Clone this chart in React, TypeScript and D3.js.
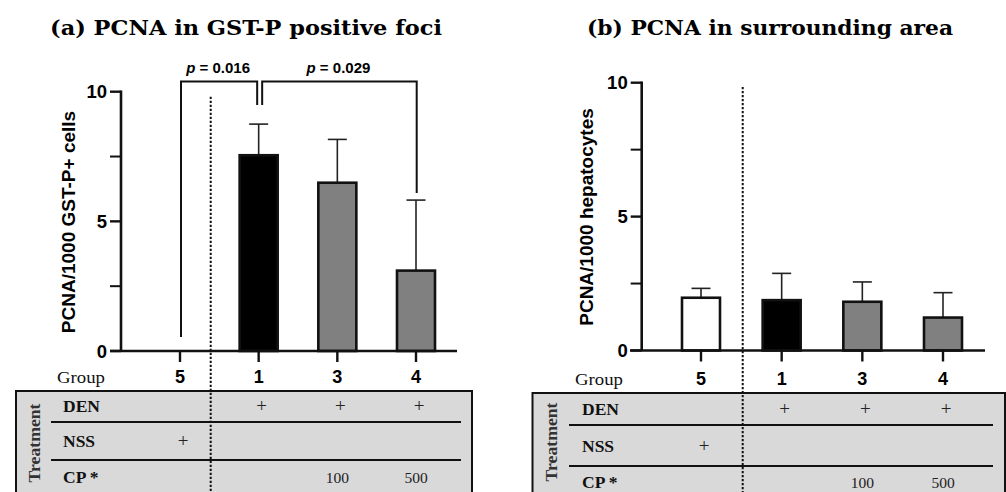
import React from 'react';
import * as d3 from 'd3';

// ---------- data ----------
const groups = ['5', '1', '3', '4'];
const meanA = [0, 7.55, 6.49, 3.1];
const sdA = [0, 1.2, 1.67, 2.72];
const meanB = [1.97, 1.88, 1.82, 1.23];
const sdB = [0.35, 1.0, 0.74, 0.93];
const barFill = ['#ffffff', '#000000', '#808080', '#808080'];
const majorTicks = [0, 5, 10];
const minorTicks = [2.5, 7.5];
const rowLabels = ['DEN', 'NSS', 'CP *'];
const denRow = ['', '+', '+', '+'];
const nssRow = ['+', '', '', ''];
const cpRow = ['', '', '100', '500'];
const compFrom = ['5', '1'];
const compTo = ['1', '4'];
const pValues = ['0.016', '0.029'];
const titles = ['(a) PCNA in GST-P positive foci', '(b) PCNA in surrounding area'];
const yLabels = ['PCNA/1000 GST-P+ cells', 'PCNA/1000 hepatocytes'];

const SANS = '"Liberation Sans", Arial, sans-serif';
const SERIF = '"Liberation Serif", "Times New Roman", serif';
const TITLE = '"DejaVu Serif", serif';

type Layout = {
  axisX: number; xl: number; xr: number; y0: number; y10: number; xRange: [number, number];
  dotX: number; dotTop: number; titleX: number; titleW: number; ylx: number; yly: number;
  groupBase: number; groupX: number; tblL: number; tblT: number; tblR: number;
  lines: number[]; lineL: number; lineR: number; rowBase: number[]; rowX: number;
  trtX: number; trtY: number; tickGap: number;
};

const LA: Layout = {
  axisX: 121, xl: 110, xr: 457, y0: 351, y10: 91.7, xRange: [180, 416],
  dotX: 210.7, dotTop: 96.7, titleX: 246, titleW: 392, ylx: 75, yly: 222,
  groupBase: 383, groupX: 57, tblL: 16, tblT: 391, tblR: 472,
  lines: [422, 460], lineL: 51, lineR: 461, rowBase: [411.5, 447, 483], rowX: 63,
  trtX: 40, trtY: 443, tickGap: 14,
};
const LB: Layout = {
  axisX: 641.7, xl: 630, xr: 985, y0: 350.5, y10: 82.7, xRange: [701, 943],
  dotX: 742.7, dotTop: 87, titleX: 770, titleW: 366, ylx: 593, yly: 217,
  groupBase: 385, groupX: 575, tblL: 532.5, tblT: 393, tblR: 1005,
  lines: [425, 466], lineL: 569, lineR: 993, rowBase: [415, 452, 488], rowX: 582,
  trtX: 557, trtY: 442, tickGap: 14,
};

function Panel({ L, means, sds, idx }: { L: Layout; means: number[]; sds: number[]; idx: number }) {
  const x = d3.scalePoint<string>().domain(groups).range(L.xRange);
  const y = d3.scaleLinear().domain([0, 10]).range([L.y0, L.y10]);
  const bw = 38;
  const rows = [denRow, nssRow, cpRow];
  return (
    <g>
      <text x={L.titleX} y={35} textAnchor="middle" fontFamily={TITLE} fontWeight="bold" fontSize={21}
        textLength={L.titleW} lengthAdjust="spacingAndGlyphs">{titles[idx]}</text>
      {/* table */}
      <rect x={L.tblL} y={L.tblT} width={L.tblR - L.tblL} height={200} fill="#d9d9d9" stroke="#111" strokeWidth={2} />
      {L.lines.map((ly, i) => (
        <line key={i} x1={L.lineL} x2={L.lineR} y1={ly} y2={ly} stroke="#111" strokeWidth={2} />
      ))}
      <text transform={`translate(${L.trtX},${L.trtY}) rotate(-90)`} textAnchor="middle" fontFamily={SERIF}
        fontSize={17} fontWeight="bold" fill="#333" textLength={79} lengthAdjust="spacingAndGlyphs">Treatment</text>
      {rowLabels.map((r, i) => (
        <text key={r} x={L.rowX} y={L.rowBase[i]} fontFamily={SERIF} fontWeight="bold" fontSize={17.5} fill="#111">{r}</text>
      ))}
      {rows.map((row, ri) =>
        row.map((v, gi) => v ? (
          <text key={`${ri}-${gi}`} x={x(groups[gi])! + (v === '+' ? 3 : 0)} y={L.rowBase[ri]} textAnchor="middle"
            fontFamily={SERIF} fontSize={v === '+' ? 19 : 15.5} fill="#222">{v}</text>
        ) : null)
      )}
      <text x={L.groupX} y={L.groupBase} fontFamily={SERIF} fontSize={17.5} fill="#111" textLength={48}
        lengthAdjust="spacingAndGlyphs">Group</text>
      {groups.map(g => (
        <text key={g} x={x(g)!} y={L.groupBase} textAnchor="middle" fontFamily={SANS} fontWeight="bold" fontSize={18}>{g}</text>
      ))}
      {/* dotted separator */}
      <line x1={L.dotX} x2={L.dotX} y1={L.dotTop} y2={492} stroke="#111" strokeWidth={2} strokeDasharray="2.2,1.8" />
      {/* bars */}
      {groups.map((g, i) => means[i] > 0 ? (
        <g key={g}>
          <line x1={x(g)!} x2={x(g)!} y1={y(means[i])} y2={y(means[i] + sds[i])} stroke="#222" strokeWidth={1.6} />
          <line x1={x(g)! - 9.5} x2={x(g)! + 9.5} y1={y(means[i] + sds[i])} y2={y(means[i] + sds[i])} stroke="#222" strokeWidth={1.6} />
          <rect x={x(g)! - bw / 2} y={y(means[i])} width={bw} height={y(0) - y(means[i])}
            fill={barFill[i]} stroke="#111" strokeWidth={2.6} />
        </g>
      ) : null)}
      {/* axes */}
      <line x1={L.xl} x2={L.xr} y1={L.y0} y2={L.y0} stroke="#111" strokeWidth={2.6} />
      <line x1={L.axisX} x2={L.axisX} y1={y(10) - 1.2} y2={L.y0} stroke="#111" strokeWidth={2.6} />
      {majorTicks.map(t => (
        <g key={t}>
          <line x1={L.axisX - 11} x2={L.axisX} y1={y(t)} y2={y(t)} stroke="#111" strokeWidth={2.4} />
          <text x={L.axisX - L.tickGap} y={y(t)} dy="0.36em" textAnchor="end" fontFamily={SANS} fontWeight="bold" fontSize={18.5}>{t}</text>
        </g>
      ))}
      {minorTicks.map(t => (
        <line key={t} x1={L.axisX - 11} x2={L.axisX} y1={y(t)} y2={y(t)} stroke="#111" strokeWidth={2} />
      ))}
      {groups.map(g => (
        <line key={g} x1={x(g)!} x2={x(g)!} y1={L.y0} y2={L.y0 + 11} stroke="#111" strokeWidth={2.4} />
      ))}
      <text transform={`translate(${L.ylx},${L.yly}) rotate(-90)`} textAnchor="middle" fontFamily={SANS}
        fontWeight="bold" fontSize={19}>{yLabels[idx]}</text>
      {idx === 0 ? <Brackets x={x} y={y} means={means} sds={sds} /> : null}
    </g>
  );
}

function Brackets({ x, y, means, sds }: any) {
  const top = 81.5;
  const upper = (g: string) => {
    const i = groups.indexOf(g);
    return means[i] + sds[i];
  };
  const legOffL = [1, 3.5];
  const legOffR = [-1.5, 0.7];
  const legGapL = [14, 19];
  const legGapR = [19, 7];
  return (
    <g>
      {compFrom.map((f, i) => {
        const t = compTo[i];
        const x1 = x(f) + legOffL[i];
        const x2 = x(t) + legOffR[i];
        const b1 = y(upper(f)) - legGapL[i];
        const b2 = y(upper(t)) - legGapR[i];
        return (
          <g key={i}>
            <path d={`M${x1},${b1}V${top}H${x2}V${b2}`} fill="none" stroke="#111" strokeWidth={2} />
            <text x={(x1 + x2) / 2 - 1} y={73} textAnchor="middle" fontFamily={SANS} fontWeight="bold" fontSize={15}>
              <tspan fontStyle="italic">p</tspan> = {pValues[i]}
            </text>
          </g>
        );
      })}
    </g>
  );
}

export default function App() {
  return (
    <svg width={1006} height={492} style={{ position: 'absolute', left: 0, top: 0, background: '#fff' }}>
      <rect width={1006} height={492} fill="#fff" />
      <Panel L={LA} means={meanA} sds={sdA} idx={0} />
      <Panel L={LB} means={meanB} sds={sdB} idx={1} />
    </svg>
  );
}
